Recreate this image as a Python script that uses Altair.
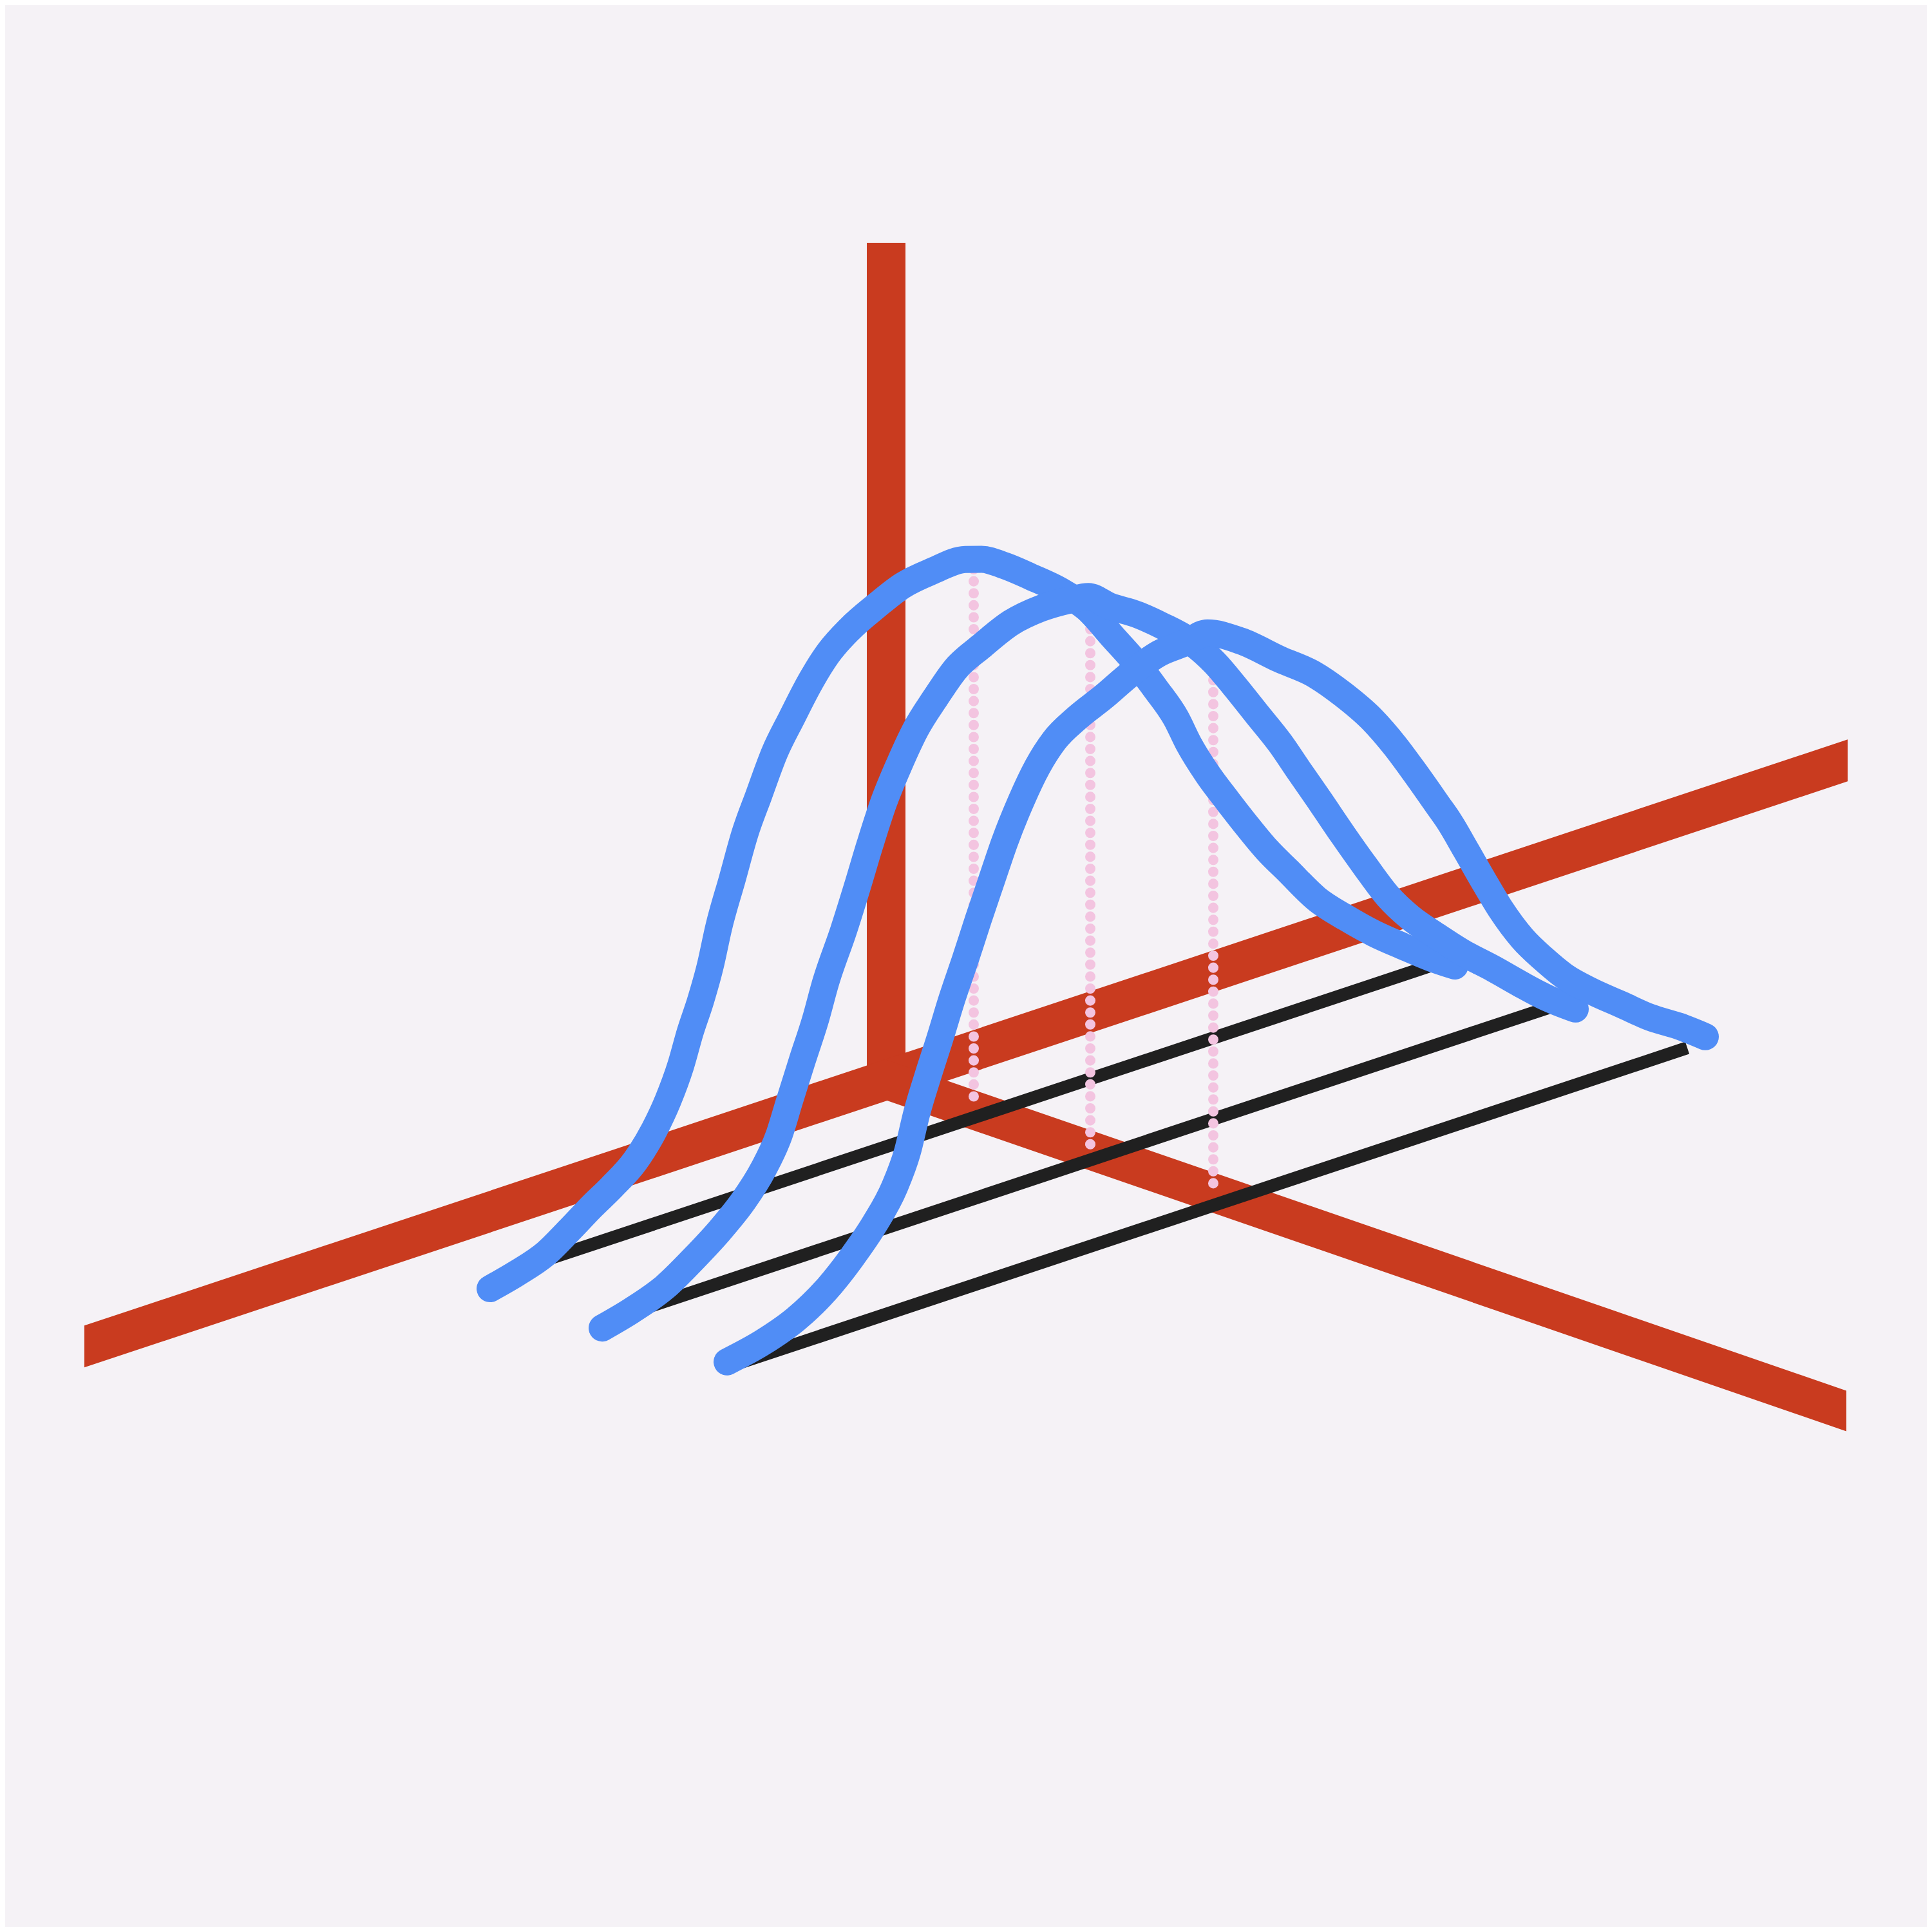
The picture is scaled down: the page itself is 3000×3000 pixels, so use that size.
import altair as alt
import pandas as pd

# ---------------- colours ----------------
BG = "#F5F2F6"
RED = "#C93B1F"
BLUE = "#508DF6"
INK = "#202020"
PINK = "#F3C4E0"

# ---------------- projection of the 3-D scene (units of the floor grid) ----------------
U_SLOPE = 0.3324   # rise per unit along the long floor axis
D_SLOPE = 0.3447   # drop per unit along the depth axis

# red frame axes
axis_u = [-12.45, 14.93]     # long floor axis extent
axis_d = [0.0, 14.91]        # depth axis extent
axis_h = 13.0                # vertical axis height

# the three slices
depths = [1.53, 3.39, 5.37]
base_u0 = [-6.9, -7.4, -7.8]
base_u1 = [7.0, 7.0, 7.07]

c1_u = [-7.68, -7.27, -6.81, -6.45, -6.10, -5.79, -5.43, -5.13, -4.92, -4.72, -4.57, -4.41,
        -4.26, -4.13, -3.92, -3.72, -3.51, -3.26, -3.00, -2.70, -2.44, -2.09, -1.68, -1.27,
        -0.81, -0.30, -0.05, 0.31, 0.72, 1.18, 1.59, 2.00, 2.35, 2.66, 2.97, 3.17, 3.47,
        3.77, 4.08, 4.38, 4.71, 5.16, 5.60, 6.05, 6.50, 6.94, 7.30]
c1_h = [-0.16, -0.06, 0.10, 0.34, 0.59, 0.79, 1.07, 1.46, 1.84, 2.32, 2.80, 3.23,
        3.72, 4.27, 4.95, 5.60, 6.11, 6.70, 7.14, 7.62, 7.95, 8.23, 8.45, 8.63,
        8.70, 8.71, 8.63, 8.41, 8.10, 7.73, 7.32, 6.73, 6.22, 5.71, 5.16, 4.69, 4.11,
        3.61, 3.11, 2.65, 2.21, 1.62, 1.19, 0.79, 0.44, 0.11, -0.13]

c2_u = [-7.80, -7.34, -6.83, -6.37, -5.97, -5.61, -5.30, -5.05, -4.89, -4.69, -4.49, -4.33,
        -4.05, -3.84, -3.64, -3.44, -3.18, -2.93, -2.62, -2.31, -1.91, -1.45, -0.99, -0.53,
        -0.25, 0.08, 0.49, 0.90, 1.31, 1.71, 2.01, 2.37, 2.73, 3.03, 3.34, 3.70, 4.05,
        4.40, 4.75, 5.15, 5.55, 6.05, 6.45, 6.87, 7.31]
c2_h = [-0.09, 0.03, 0.22, 0.52, 0.82, 1.15, 1.54, 2.00, 2.47, 3.04, 3.59, 4.12,
        4.84, 5.44, 6.04, 6.59, 7.14, 7.59, 7.98, 8.32, 8.54, 8.75, 8.82, 8.80,
        8.76, 8.50, 8.24, 7.92, 7.56, 7.08, 6.63, 6.06, 5.49, 4.95, 4.40, 3.75, 3.14,
        2.56, 2.11, 1.70, 1.31, 0.88, 0.52, 0.16, -0.16]

c3_u = [-7.84, -7.28, -6.77, -6.31, -5.91, -5.55, -5.24, -5.04, -4.89, -4.73, -4.53, -4.35,
        -4.14, -3.94, -3.73, -3.53, -3.27, -3.02, -2.76, -2.41, -2.00, -1.54, -1.13, -0.72,
        -0.38, 0.14, 0.75, 1.26, 1.72, 2.18, 2.53, 2.84, 3.20, 3.37, 3.63, 3.89, 4.17,
        4.51, 4.84, 5.16, 5.60, 6.05, 6.50, 6.94, 7.35]
c3_h = [0.08, 0.20, 0.39, 0.68, 1.05, 1.46, 1.93, 2.41, 2.98, 3.46, 4.02, 4.55,
        5.10, 5.65, 6.20, 6.72, 7.28, 7.72, 8.04, 8.27, 8.46, 8.70, 8.85, 8.88,
        8.92, 8.62, 8.13, 7.74, 7.27, 6.72, 6.20, 5.68, 5.05, 4.75, 4.22, 3.68, 3.12,
        2.55, 2.12, 1.75, 1.36, 1.01, 0.66, 0.38, 0.08]

# dotted drop lines under each peak
peak_u = [-0.17, -0.22, -0.29]
peak_top = [8.70, 8.80, 8.90]
peak_bottom = [0.22, 0.12, 0.20]

# ---------------- helpers ----------------
def px(u, d):
    return u + d

def py(u, d, h):
    return U_SLOPE * u - D_SLOPE * d + h

XDOM = [-13.68, 16.16]
YDOM = [-13.15, 16.69]

def X(f):
    return alt.X(f, type="quantitative", scale=alt.Scale(domain=XDOM, nice=False, zero=False), axis=None)

def Y(f):
    return alt.Y(f, type="quantitative", scale=alt.Scale(domain=YDOM, nice=False, zero=False), axis=None)

# ---------------- tables ----------------
vert = pd.DataFrame({"x0": [-0.30], "x1": [0.30], "y0": [0.0], "y1": [axis_h]})

a1 = pd.DataFrame({"u": axis_u})
a1["sx"] = px(a1["u"], 0.0)
a1["lo"] = py(a1["u"], 0.0, 0.0) - 0.325
a1["hi"] = py(a1["u"], 0.0, 0.0) + 0.325

a2 = pd.DataFrame({"d": axis_d})
a2["sx"] = px(0.0, a2["d"])
a2["lo"] = py(0.0, a2["d"], 0.0) - 0.315
a2["hi"] = py(0.0, a2["d"], 0.0) + 0.315

rows = []
for k, d in enumerate(depths):
    for i, u in enumerate([base_u0[k], base_u1[k]]):
        rows.append({"k": k, "i": i, "sx": px(u, d), "sy": py(u, d, 0.0)})
base = pd.DataFrame(rows)

rows = []
for k, d in enumerate(depths):
    for i, h in enumerate([peak_top[k], peak_bottom[k]]):
        rows.append({"k": k, "i": i, "sx": px(peak_u[k], d), "sy": py(peak_u[k], d, h)})
drops = pd.DataFrame(rows)

rows = []
for k, (us, hs) in enumerate([(c1_u, c1_h), (c2_u, c2_h), (c3_u, c3_h)]):
    d = depths[k]
    for i, (u, h) in enumerate(zip(us, hs)):
        rows.append({"k": k, "i": i, "sx": px(u, d), "sy": py(u, d, h)})
curves = pd.DataFrame(rows)

# ---------------- layers ----------------
l_vert = alt.Chart(vert).mark_rect(color=RED).encode(
    x=X("x0"), x2="x1", y=Y("y0"), y2="y1")

l_a1 = alt.Chart(a1).mark_area(color=RED, opacity=1).encode(
    x=X("sx"), y=Y("lo"), y2="hi")

l_a2 = alt.Chart(a2).mark_area(color=RED, opacity=1).encode(
    x=X("sx"), y=Y("lo"), y2="hi")

l_base = alt.Chart(base).mark_line(color=INK, strokeWidth=20, strokeCap="butt").encode(
    x=X("sx"), y=Y("sy"), detail="k:N", order="i:Q")

l_drop = alt.Chart(drops).mark_line(color=PINK, strokeWidth=16, strokeCap="round",
                                    strokeDash=[0.1, 18.5]).encode(
    x=X("sx"), y=Y("sy"), detail="k:N", order="i:Q")

l_curve = alt.Chart(curves).mark_line(color=BLUE, strokeWidth=42, strokeCap="round",
                                      strokeJoin="round", interpolate="monotone").encode(
    x=X("sx"), y=Y("sy"), detail="k:N", order="i:Q")

chart = alt.layer(l_vert, l_a1, l_a2, l_base, l_drop, l_curve).properties(
    width=2984, height=2984, background=BG, padding=0,
    autosize=alt.AutoSizeParams(type="none"),
).configure_view(strokeWidth=0)

chart.save("out.html", embed_options={"renderer": "svg", "actions": False})
